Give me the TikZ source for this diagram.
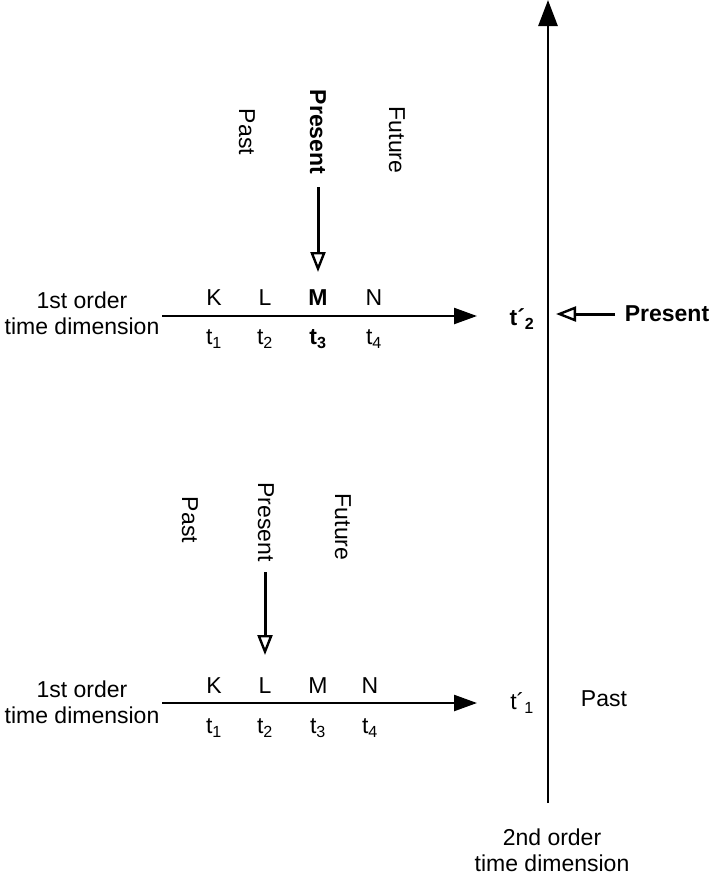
\documentclass[tikz,border=0pt]{standalone}
\usepackage{fontspec}
\setmainfont{Liberation Sans}
\usetikzlibrary{arrows.meta,positioning}

\begin{document}
\begin{tikzpicture}
    [x=1pt,y=-1pt,
    axis/.style={line width=2.4pt,-{Triangle[length=23pt,width=16pt]}},
    nowarrow/.style={line width=3pt,-{Triangle[open,length=20pt,width=15pt,line width=2.4pt]}},
    lbl/.style={font=\fontsize{23}{26}\selectfont,inner sep=0pt},
    blbl/.style={lbl,font=\fontsize{23}{26}\selectfont\bfseries},
    vlbl/.style={lbl,rotate=-90},
    dimlbl/.style={lbl,align=center}]
  \useasboundingbox (0,0) rectangle (715,876);
  % 2nd order time dimension
  \node[dimlbl] (dim2) at (552,850) {2nd order\\time dimension};
  \coordinate (bot2) at (548,803);
  \coordinate (top2) at (548,0);
  \draw[line width=2.8pt,-{Triangle[length=26pt,width=19pt]}] (bot2) -- (top2);
  % upper 1st order axis
  \node[dimlbl] (dimA) at (82,313) {1st order\\time dimension};
  \coordinate (startA) at (162,316);
  \coordinate (endA) at (477,316);
  \draw[axis] (startA) -- (endA);
  \node[lbl] (kA1) at (214,298) {K};
  \node[lbl] (kA2) at (265,298) {L};
  \node[blbl] (kA3) at (318,298) {M};
  \node[lbl] (kA4) at (374,298) {N};
  \node[lbl] (tA1) at (214,339) {t\textsubscript{1}};
  \node[lbl] (tA2) at (265,339) {t\textsubscript{2}};
  \node[blbl] (tA3) at (318,339) {t\textsubscript{3}};
  \node[lbl] (tA4) at (374,339) {t\textsubscript{4}};
  \node[vlbl] (pastA) at (247,132) {Past};
  \node[blbl,rotate=-90] (presA) at (318,132) {Present};
  \node[vlbl] (futA) at (397,140) {Future};
  \coordinate (fromA) at (318,187);
  \coordinate (nowA) at (318,272);
  \draw[nowarrow] (fromA) -- (nowA);
  % t'2 on the 2nd order axis
  \node[blbl] (tp2) at (522,319) {t´\textsubscript{2}};
  \node[blbl] (pres2) at (667,314) {Present};
  \coordinate (from2) at (615,314);
  \coordinate (hit2) at (556,314);
  \draw[nowarrow] (from2) -- (hit2);
  % lower 1st order axis
  \node[dimlbl] (dimB) at (82,702) {1st order\\time dimension};
  \coordinate (startB) at (162,703);
  \coordinate (endB) at (477,703);
  \draw[axis] (startB) -- (endB);
  \node[lbl] (kB1) at (214,686) {K};
  \node[lbl] (kB2) at (265,686) {L};
  \node[lbl] (kB3) at (318,686) {M};
  \node[lbl] (kB4) at (370,686) {N};
  \node[lbl] (tB1) at (214,728) {t\textsubscript{1}};
  \node[lbl] (tB2) at (265,728) {t\textsubscript{2}};
  \node[lbl] (tB3) at (318,728) {t\textsubscript{3}};
  \node[lbl] (tB4) at (370,728) {t\textsubscript{4}};
  \node[vlbl] (pastB) at (190,520) {Past};
  \node[vlbl] (presB) at (266,522) {Present};
  \node[vlbl] (futB) at (343,527) {Future};
  \coordinate (fromB) at (265,572);
  \coordinate (nowB) at (265,655);
  \draw[nowarrow] (fromB) -- (nowB);
  % t'1 on the 2nd order axis
  \node[lbl] (tp1) at (522,703) {t´\textsubscript{1}};
  \node[lbl] (past2) at (604,699) {Past};
\end{tikzpicture}
\end{document}
